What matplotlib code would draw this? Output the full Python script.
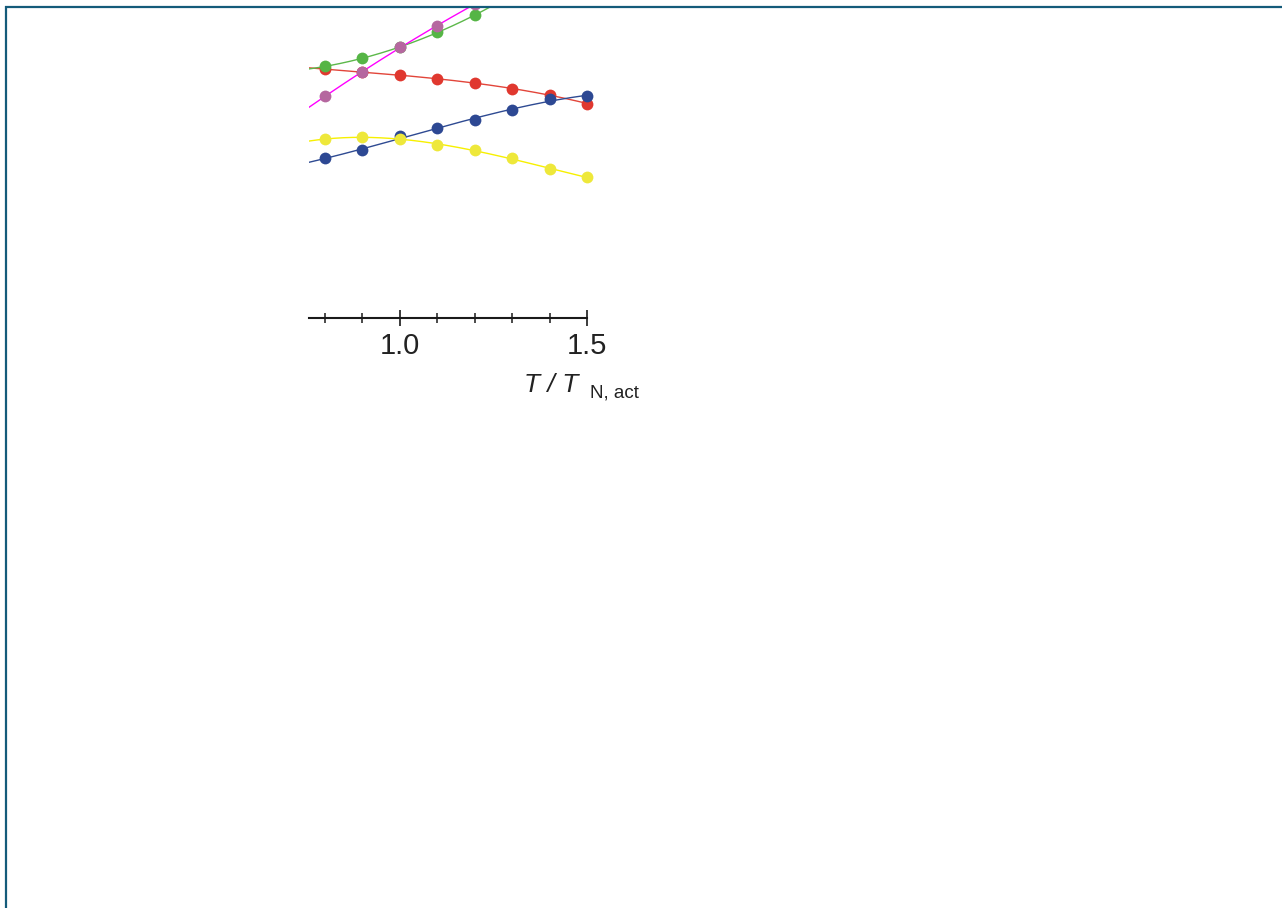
import numpy as np
import matplotlib
matplotlib.use("Agg")
import matplotlib.pyplot as plt
from matplotlib.lines import Line2D

plt.rcParams['font.family'] = ['Liberation Sans', 'DejaVu Sans']

# temperature ratio T / T_N,act
t_ratio = [0.8, 0.9, 1.0, 1.1, 1.2, 1.3, 1.4, 1.5]
t_ratio_short = [0.8, 0.9, 1.0, 1.1, 1.2]

# series values (arbitrary units, y axis not shown)
red_vals = [2.487, 2.463, 2.430, 2.387, 2.350, 2.293, 2.233, 2.143]
green_vals = [2.517, 2.597, 2.707, 2.860, 3.027]
blue_vals = [1.597, 1.677, 1.820, 1.897, 1.977, 2.083, 2.193, 2.217]
yellow_vals = [1.787, 1.813, 1.787, 1.733, 1.677, 1.597, 1.490, 1.407]
magenta_vals = [2.217, 2.463, 2.707, 2.920, 3.140]

# (x, y, line colour, marker colour, fit degree) in drawing order
series = [
    (t_ratio, red_vals, '#e2453a', '#e0382f', 3),
    (t_ratio_short, green_vals, '#5cb84a', '#55b545', 2),
    (t_ratio, blue_vals, '#2e4a92', '#2d4893', 3),
    (t_ratio, yellow_vals, '#f7f000', '#eee83a', 3),
    (t_ratio_short, magenta_vals, '#ff00ff', '#b5679f', 2),
]

W, H = 1282, 908
px_per_unit = 374.3
x_end, x_hi = 1.5, 1.55
x_lo = 0.8 - 16 / px_per_unit
ax_left = 325 - 16
ax_w = (x_hi - x_lo) * px_per_unit

fig = plt.figure(figsize=(W / 100, H / 100), dpi=100)
ax = fig.add_axes([ax_left / W, 1 - 318 / H, ax_w / W, 311 / H])

xx = np.linspace(x_lo, x_end, 300)
for xs, ys, lc, mc, deg in series:
    coef = np.polyfit(xs, ys, deg)
    ax.plot(xx, np.polyval(coef, xx), color=lc, lw=1.0, zorder=2)
    ax.plot(xs, ys, 'o', ms=8.5, color=mc, mec='none', zorder=3)

ax.set_xlim(x_lo, x_hi)
ax.set_ylim(0, 3.11)

for side in ['left', 'right', 'top']:
    ax.spines[side].set_visible(False)
ax.spines['bottom'].set_linewidth(1.5)
ax.spines['bottom'].set_color('#1a1a1a')
ax.spines['bottom'].set_bounds(x_lo, x_end)

ax.set_yticks([])
ax.set_xticks([1.0, 1.5])
ax.set_xticklabels(['1.0', '1.5'])
ax.set_xticks([0.8, 0.9, 1.1, 1.2, 1.3, 1.4], minor=True)
ax.tick_params(axis='x', which='major', direction='inout', length=11.5, width=1.2,
               color='#1a1a1a', labelsize=21, labelcolor='#222222', pad=4)
ax.tick_params(axis='x', which='minor', direction='inout', length=6.5, width=1.1,
               color='#1a1a1a')

# axis title: T / T with subscript N, act
fig.text(524 / W, 1 - 392 / H, 'T / T', fontsize=19, style='italic',
         color='#222222', ha='left', va='baseline')
fig.text(590 / W, 1 - 397 / H, 'N, act', fontsize=13.5,
         color='#222222', ha='left', va='baseline')

# frame line along the left and top edge
frame_col = '#145b7a'
fig.add_artist(Line2D([6 / W, 6 / W], [0, 1 - 6 / H], color=frame_col, lw=1.6,
                      transform=fig.transFigure, solid_capstyle='butt'))
fig.add_artist(Line2D([5 / W, 1], [1 - 6.8 / H, 1 - 6.8 / H], color=frame_col, lw=1.6,
                      transform=fig.transFigure, solid_capstyle='butt'))

fig.savefig('out.png', dpi=100)
